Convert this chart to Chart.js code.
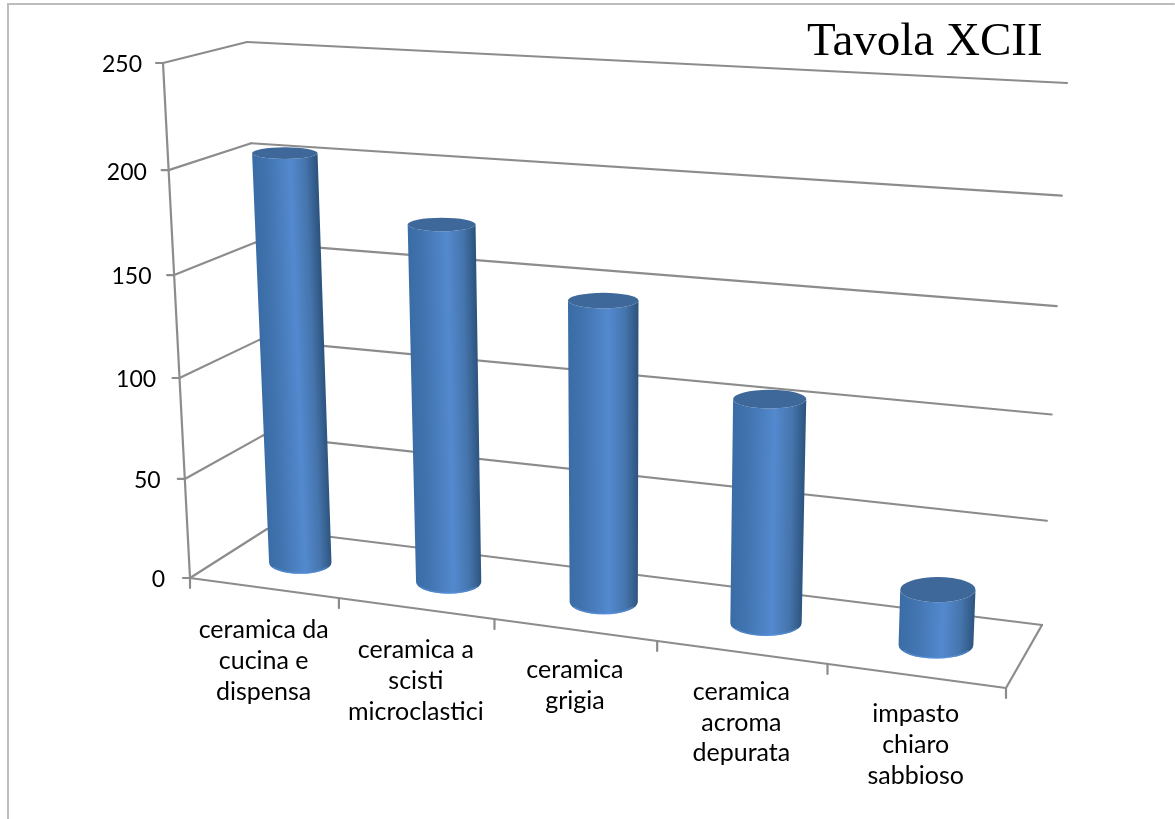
<!DOCTYPE html>
<html>
<head>
<meta charset="utf-8">
<title>Tavola XCII</title>
<style>
  html, body { margin: 0; padding: 0; background: #fff; }
  canvas { display: block; }
</style>
<script src="https://cdn.jsdelivr.net/npm/chart.js@4"></script>
</head>
<body>
<canvas id="chart" width="1175" height="819"></canvas>
<script>
const chartTitle = 'Tavola XCII';
const categories = [
  ['ceramica da', 'cucina e', 'dispensa'],
  ['ceramica a', 'scisti', 'microclastici'],
  ['ceramica', 'grigia'],
  ['ceramica', 'acroma', 'depurata'],
  ['impasto', 'chiaro', 'sabbioso'],
];
const values = [204, 175, 145, 106, 26];
const yTicks = [0, 50, 100, 150, 200, 250];

// Corners of the 3D box on the page: floor and ceiling
const floorBox = { fl: [190, 578], fr: [1006, 688], bl: [267, 529], br: [1042, 625] };
const ceilBox = { fl: [163, 63], fr: [1030, 102], bl: [247, 42], br: [1067, 83] };
const WARP_X = 1.12;
const WARP_Y = 1.05;
const BAR_DEPTH = 0.22;
const LINE_COLOR = '#8c8c8c';
const FONT = 'Lato, "Open Sans", sans-serif';

const warp = (a, k) => a / (a + (1 - a) * k);
const mix = (a, b, f) => a + (b - a) * f;

function onBox(box, u, z) {
  const front = [mix(box.fl[0], box.fr[0], u), mix(box.fl[1], box.fr[1], u)];
  const back = [mix(box.bl[0], box.br[0], u), mix(box.bl[1], box.br[1], u)];
  return [mix(front[0], back[0], z), mix(front[1], back[1], z)];
}

// u: 0..1 along the categories, t: 0..1 along the values, z: 0 front, 1 back
function project(u, t, z) {
  const wu = warp(u, WARP_X);
  const wt = warp(t, WARP_Y);
  const low = onBox(floorBox, wu, z);
  const high = onBox(ceilBox, wu, z);
  return [mix(low[0], high[0], wt), mix(low[1], high[1], wt)];
}

function normalised(chart, px, py) {
  const { left, width, bottom, height } = chart.chartArea;
  return [(px - left) / width, (bottom - py) / height];
}

class CylinderBar extends Chart.BarElement {
  draw(ctx) {
    const chart = this.chartRef;
    const [u, t] = normalised(chart, this.x, this.y);
    const half = this.width / chart.chartArea.width / 2;

    const ring = (level) => {
      const c = project(u, level, 0.5);
      const l = project(u - half, level, 0.5);
      const r = project(u + half, level, 0.5);
      const n = project(u, level, 0.5 - BAR_DEPTH);
      const f = project(u, level, 0.5 + BAR_DEPTH);
      return { x: c[0], y: c[1], rx: (r[0] - l[0]) / 2, ry: (n[1] - f[1]) / 2 };
    };
    const top = ring(t);
    const base = ring(0);

    ctx.save();
    ctx.beginPath();
    ctx.moveTo(top.x - top.rx, top.y);
    ctx.lineTo(base.x - base.rx, base.y);
    ctx.ellipse(base.x, base.y, base.rx, base.ry, 0, Math.PI, 0, true);
    ctx.lineTo(top.x + top.rx, top.y);
    ctx.ellipse(top.x, top.y, top.rx, top.ry, 0, 0, Math.PI, false);
    ctx.closePath();

    // shear the gradient so the shading follows the leaning bar
    const lean = (top.x - base.x) / (top.y - base.y);
    const shade = ctx.createLinearGradient(base.x - base.rx, 0, base.x + base.rx, 0);
    shade.addColorStop(0, '#3a6da6');
    shade.addColorStop(0.25, '#4376b2');
    shade.addColorStop(0.58, '#5389cf');
    shade.addColorStop(0.82, '#4675ad');
    shade.addColorStop(1, '#2d5580');
    ctx.fillStyle = shade;
    ctx.transform(1, 0, lean, 1, -lean * base.y, 0);
    ctx.fill();
    ctx.restore();

    // lighter rim along the bottom
    ctx.save();
    ctx.strokeStyle = 'rgba(90, 150, 225, 0.55)';
    ctx.lineWidth = 1.5;
    ctx.beginPath();
    ctx.ellipse(base.x, base.y - 0.7, base.rx - 1, base.ry, 0, Math.PI * 0.85, Math.PI * 0.15, true);
    ctx.stroke();
    ctx.restore();

    ctx.save();
    ctx.fillStyle = '#3e6899';
    ctx.beginPath();
    ctx.ellipse(top.x, top.y, top.rx, top.ry, 0, 0, Math.PI * 2);
    ctx.fill();
    ctx.restore();
  }
}
CylinderBar.id = 'cylinderBar';
CylinderBar.defaults = { ...Chart.BarElement.defaults };

class CylinderController extends Chart.BarController {
  draw() {
    this.getMeta().data.forEach((bar) => { bar.chartRef = this.chart; });
    super.draw();
  }
}
CylinderController.id = 'cylinder';
CylinderController.defaults = { ...Chart.BarController.defaults, dataElementType: 'cylinderBar' };
CylinderController.overrides = Chart.BarController.overrides;

Chart.register(CylinderBar, CylinderController);

function segment(ctx, a, b) {
  ctx.beginPath();
  ctx.moveTo(a[0], a[1]);
  ctx.lineTo(b[0], b[1]);
  ctx.stroke();
}

const boxPlugin = {
  id: 'boxPlugin',
  beforeDatasetsDraw(chart) {
    const { ctx, scales: { x, y } } = chart;
    ctx.save();
    ctx.lineCap = 'round';

    // outer frame, only top and sides show in the scan
    ctx.strokeStyle = '#bdbdbd';
    ctx.lineWidth = 2;
    ctx.beginPath();
    ctx.moveTo(8, 819);
    ctx.lineTo(8, 4);
    ctx.lineTo(1174, 4);
    ctx.stroke();

    ctx.strokeStyle = LINE_COLOR;
    ctx.lineWidth = 2.2;

    // walls
    yTicks.forEach((tick) => {
      const [, t] = normalised(chart, 0, y.getPixelForValue(tick));
      const front = project(0, t, 0);
      segment(ctx, front, project(0, t, 1));
      segment(ctx, project(0, t, 1), project(1, t, 1));
      segment(ctx, [front[0] - 7, front[1]], front);
    });
    segment(ctx, project(0, 0, 0), project(0, 1, 0));

    // floor
    segment(ctx, project(0, 0, 0), project(1, 0, 0));
    segment(ctx, project(1, 0, 0), project(1, 0, 1));
    categories.forEach((label, i) => {
      const edge = (x.getPixelForValue(i) - chart.chartArea.left
        - (x.getPixelForValue(1) - x.getPixelForValue(0)) / 2) / chart.chartArea.width;
      const p = project(edge, 0, 0);
      segment(ctx, p, [p[0], p[1] + 10]);
    });
    const end = project(1, 0, 0);
    segment(ctx, end, [end[0], end[1] + 10]);
    ctx.restore();
  },
  afterDraw(chart) {
    const { ctx, scales: { x, y } } = chart;
    ctx.save();
    ctx.fillStyle = '#000';

    // value labels
    ctx.font = `23px ${FONT}`;
    ctx.textAlign = 'right';
    ctx.textBaseline = 'middle';
    yTicks.forEach((tick) => {
      const [, t] = normalised(chart, 0, y.getPixelForValue(tick));
      const p = project(0, t, 0);
      ctx.fillText(String(tick), p[0] - mix(25, 21, t), p[1] + 2);
    });

    // category labels
    ctx.font = `25px ${FONT}`;
    ctx.textAlign = 'center';
    categories.forEach((lines, i) => {
      const [u] = normalised(chart, x.getPixelForValue(i), 0);
      const p = project(u, 0, 0);
      lines.forEach((line, n) => {
        ctx.fillText(line, p[0], p[1] + mix(43, 38, u) + n * 30.8);
      });
    });

    ctx.font = '47px "Liberation Serif", serif';
    ctx.textAlign = 'left';
    ctx.textBaseline = 'alphabetic';
    ctx.fillText(chartTitle, 807, 55);
    ctx.restore();
  },
};

const diagram = new Chart(document.getElementById('chart'), {
  type: 'cylinder',
  data: {
    labels: categories,
    datasets: [{
      data: values,
      backgroundColor: '#4f81bd',
      categoryPercentage: 1,
      barPercentage: 0.43,
    }],
  },
  options: {
    responsive: false,
    animation: false,
    layout: { padding: 0 },
    scales: {
      x: { display: false },
      y: { display: false, min: 0, max: 250 },
    },
    plugins: {
      legend: { display: false },
      tooltip: { enabled: false },
    },
  },
  plugins: [boxPlugin],
});
</script>
</body>
</html>
